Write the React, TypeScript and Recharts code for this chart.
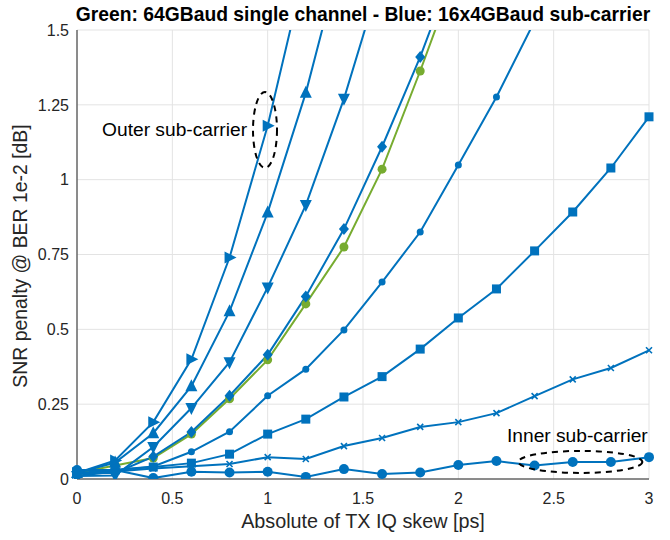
import React from "react";
import {
  CartesianGrid,
  Label,
  Line,
  LineChart,
  ReferenceDot,
  XAxis,
  YAxis,
} from "recharts";

// x positions (TX IQ skew, ps)
const skew = [0, 0.2, 0.4, 0.6, 0.8, 1.0, 1.2, 1.4, 1.6, 1.8, 2.0, 2.2, 2.4, 2.6, 2.8, 3.0];

// SNR penalty [dB] per series
const outerRight = [0.02, 0.062, 0.19, 0.4, 0.74, 1.18, 1.72];
const upTri = [0.02, 0.055, 0.153, 0.31, 0.56, 0.89, 1.29, 1.78];
const downTri = [0.01, 0.012, 0.107, 0.237, 0.39, 0.64, 0.915, 1.27, 1.69];
const diamond = [0.02, 0.02, 0.075, 0.157, 0.278, 0.415, 0.61, 0.835, 1.11, 1.41, 1.75];
const single64 = [0.02, 0.045, 0.07, 0.15, 0.268, 0.398, 0.585, 0.775, 1.035, 1.363, 1.71];
const smallDot = [0.01, 0.03, 0.042, 0.091, 0.158, 0.278, 0.367, 0.498, 0.658, 0.825, 1.049, 1.276, 1.53];
const square = [0.02, 0.03, 0.04, 0.053, 0.083, 0.15, 0.2, 0.274, 0.342, 0.434, 0.538, 0.635, 0.762, 0.892, 1.039, 1.21];
const cross = [0.01, 0.025, 0.035, 0.043, 0.05, 0.073, 0.067, 0.11, 0.137, 0.174, 0.19, 0.22, 0.277, 0.333, 0.371, 0.43];
const innerDot = [0.03, 0.03, 0.003, 0.024, 0.022, 0.024, 0.007, 0.033, 0.017, 0.022, 0.047, 0.06, 0.045, 0.057, 0.057, 0.073];

const xTicks = [0, 0.5, 1, 1.5, 2, 2.5, 3];
const yTicks = [0, 0.25, 0.5, 0.75, 1, 1.25, 1.5];

const BLUE = "#0072BD";
const GREEN = "#77AC30";
const FONT = "'Liberation Sans', Arial, Helvetica, sans-serif";

const data = skew.map((x, i) => ({
  x,
  outerRight: outerRight[i] ?? null,
  upTri: upTri[i] ?? null,
  downTri: downTri[i] ?? null,
  diamond: diamond[i] ?? null,
  single64: single64[i] ?? null,
  smallDot: smallDot[i] ?? null,
  square: square[i] ?? null,
  cross: cross[i] ?? null,
  innerDot: innerDot[i] ?? null,
}));

type Marker = "right" | "up" | "down" | "diamond" | "circle" | "square" | "cross";

function makeDot(kind: Marker, color: string, r = 4) {
  return (props: any) => {
    const { cx, cy, index } = props;
    const key = `${kind}-${index}`;
    if (cx == null || cy == null || props.value == null) return <g key={key} />;
    switch (kind) {
      case "right":
        return <polygon key={key} points={`${cx + 7},${cy} ${cx - 5},${cy - 6} ${cx - 5},${cy + 6}`} fill={color} />;
      case "up":
        return <polygon key={key} points={`${cx},${cy - 7} ${cx - 6},${cy + 5} ${cx + 6},${cy + 5}`} fill={color} />;
      case "down":
        return <polygon key={key} points={`${cx},${cy + 7} ${cx - 6},${cy - 5} ${cx + 6},${cy - 5}`} fill={color} />;
      case "diamond":
        return <polygon key={key} points={`${cx},${cy - 6} ${cx + 5},${cy} ${cx},${cy + 6} ${cx - 5},${cy}`} fill={color} />;
      case "square":
        return <rect key={key} x={cx - 4.5} y={cy - 4.5} width={9} height={9} fill={color} />;
      case "cross":
        return (
          <path
            key={key}
            d={`M${cx - 3},${cy - 3}L${cx + 3},${cy + 3}M${cx - 3},${cy + 3}L${cx + 3},${cy - 3}`}
            stroke={color}
            strokeWidth={1.6}
          />
        );
      default:
        return <circle key={key} cx={cx} cy={cy} r={r} fill={color} />;
    }
  };
}

const ellipse = (rx: number, ry: number) => (props: any) => (
  <ellipse
    cx={props.cx}
    cy={props.cy}
    rx={rx}
    ry={ry}
    fill="none"
    stroke="#000"
    strokeWidth={2}
    strokeDasharray="6 5"
  />
);

const note = (text: string, anchor: "start" | "end") => (props: any) => (
  <text
    x={props.cx}
    y={props.cy}
    textAnchor={anchor}
    dominantBaseline="central"
    fontFamily={FONT}
    fontSize={19.2}
    fill="#000"
  >
    {text}
  </text>
);

const series: { key: string; marker: Marker; color: string; r?: number }[] = [
  { key: "single64", marker: "circle", color: GREEN, r: 4.5 },
  { key: "innerDot", marker: "circle", color: BLUE, r: 5 },
  { key: "cross", marker: "cross", color: BLUE },
  { key: "square", marker: "square", color: BLUE },
  { key: "smallDot", marker: "circle", color: BLUE, r: 3.5 },
  { key: "diamond", marker: "diamond", color: BLUE },
  { key: "downTri", marker: "down", color: BLUE },
  { key: "upTri", marker: "up", color: BLUE },
  { key: "outerRight", marker: "right", color: BLUE },
];

export default function App() {
  return (
    <div style={{ position: "absolute", left: 0, top: 0, width: 670, height: 540, background: "#fff" }}>
      <LineChart width={670} height={540} data={data} margin={{ top: 30, right: 21, bottom: 31, left: 0 }}>
        <text x={363} y={14} textAnchor="middle" dominantBaseline="central" fontFamily={FONT} fontSize={19.3} fontWeight="bold" fill="#000">
          Green: 64GBaud single channel - Blue: 16x4GBaud sub-carrier
        </text>
        <CartesianGrid stroke="#e3e3e3" strokeWidth={1} horizontalValues={yTicks} verticalValues={xTicks} />
        <XAxis
          dataKey="x"
          type="number"
          domain={[0, 3]}
          ticks={xTicks}
          tickFormatter={(v: number) => String(v)}
          height={30}
          tickLine={false}
          tickMargin={8}
          axisLine={{ stroke: "#262626", strokeWidth: 1 }}
          tick={{ fill: "#262626", fontSize: 16, fontFamily: FONT }}
        >
          <Label
            content={() => (
              <text x={363} y={521} textAnchor="middle" dominantBaseline="central" fontFamily={FONT} fontSize={19.8} fill="#262626">
                Absolute of TX IQ skew [ps]
              </text>
            )}
          />
        </XAxis>
        <YAxis
          type="number"
          domain={[0, 1.5]}
          allowDataOverflow
          ticks={yTicks}
          tickFormatter={(v: number) => String(v)}
          width={77}
          tickLine={false}
          tickMargin={2}
          axisLine={{ stroke: "#262626", strokeWidth: 1 }}
          tick={{ fill: "#262626", fontSize: 16, fontFamily: FONT }}
        >
          <Label
            content={() => (
              <text
                x={20}
                y={256}
                transform="rotate(-90 20 256)"
                textAnchor="middle"
                dominantBaseline="central"
                fontFamily={FONT}
                fontSize={19.4}
                fill="#262626"
              >
                SNR penalty @ BER 1e-2 [dB]
              </text>
            )}
          />
        </YAxis>
        {series.map((s) => (
          <Line
            key={s.key}
            dataKey={s.key}
            type="linear"
            stroke={s.color}
            strokeWidth={2}
            dot={makeDot(s.marker, s.color, s.r)}
            activeDot={false}
            isAnimationActive={false}
          />
        ))}
        <ReferenceDot x={0.986} y={1.166} shape={ellipse(12, 38)} />
        <ReferenceDot x={0.892} y={1.166} shape={note("Outer sub-carrier", "end")} />
        <ReferenceDot x={2.64} y={0.057} shape={ellipse(62, 11)} />
        <ReferenceDot x={2.255} y={0.144} shape={note("Inner sub-carrier", "start")} />
      </LineChart>
    </div>
  );
}
